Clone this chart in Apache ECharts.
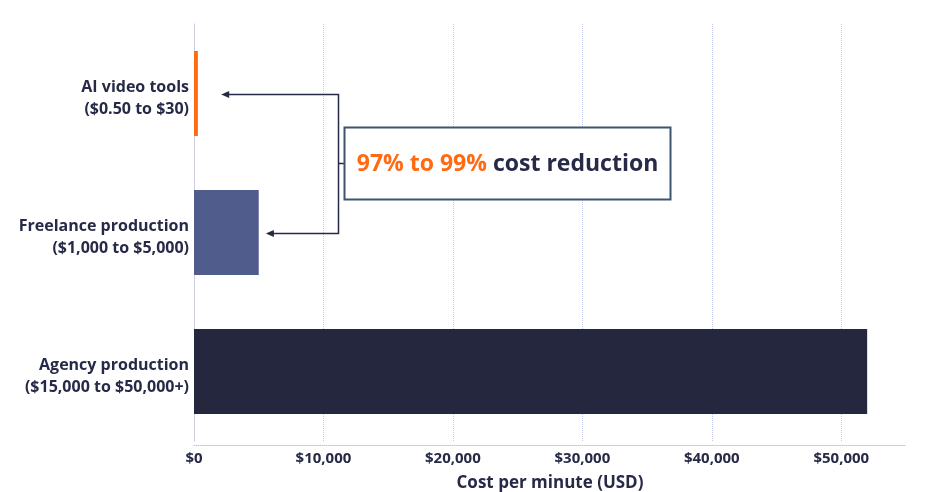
<!DOCTYPE html>
<html>
<head>
    <meta charset="utf-8">
    <title>Cost per minute of video production</title>
    <script src="https://cdn.jsdelivr.net/npm/echarts@6/dist/echarts.min.js"></script>
    <style>
        html, body { margin: 0; padding: 0; background: #fff; }
        #main { width: 935px; height: 492px; }
    </style>
</head>
<body>
<div id="main"></div>

<script type="text/javascript">
    // data
    var categories = ['AI video tools\n($0.50 to $30)', 'Freelance production\n($1,000 to $5,000)', 'Agency production\n($15,000 to $50,000+)'];
    var costs = [300, 5000, 52000];
    var barColors = ['#ff6a13', '#505c8c', '#25273f'];
    var xTicks = [0, 10000, 20000, 30000, 40000, 50000];

    var navy = '#262a47';
    var font = 'Open Sans';

    var myChart = echarts.init(document.getElementById('main'));

    var option = {
        animation: false,
        grid: { left: 194, right: 29, top: 24, bottom: 51, outerBoundsMode: 'none', containLabel: false },
        xAxis: {
            type: 'value',
            min: 0,
            max: 55000,
            interval: 10000,
            offset: 4,
            name: 'Cost per minute (USD)',
            nameLocation: 'middle',
            nameGap: 30,
            nameTextStyle: { color: navy, fontFamily: font, fontWeight: 'bold', fontSize: 17 },
            axisLine: { show: true, lineStyle: { color: '#c3c6d6', type: 'dotted', width: 1 } },
            axisTick: { show: false },
            axisLabel: {
                color: navy, fontFamily: font, fontWeight: 'bold', fontSize: 15, margin: 6,
                showMaxLabel: false,
                formatter: function (v) {
                    return xTicks.indexOf(v) < 0 ? '' : '$' + v.toLocaleString('en-US');
                }
            },
            splitLine: { show: true, showMinLine: false, showMaxLine: false, lineStyle: { color: '#c4cbee', type: 'dotted', width: 1 } }
        },
        yAxis: {
            type: 'category',
            inverse: true,
            data: categories,
            axisLine: { show: true, lineStyle: { color: '#c3c6d6', type: 'dotted', width: 1 } },
            axisTick: { show: false },
            axisLabel: {
                color: navy, fontFamily: font, fontWeight: 'bold', fontSize: 16, margin: 5,
                lineHeight: 22, align: 'right',
                // small spacer line nudges the two-line label a few px down, as in the original
                formatter: function (v) { return '{s|}\n' + v; },
                rich: { s: { lineHeight: 10, fontSize: 1 } }
            }
        },
        series: [{
            type: 'bar',
            barWidth: 85,
            data: costs.map(function (v, i) {
                return { value: v, itemStyle: { color: barColors[i] } };
            })
        }]
    };
    myChart.setOption(option);

    // annotation: bracket from the two cheaper bars to the callout box
    function px(v, cat) { return myChart.convertToPixel({ gridIndex: 0 }, [v, cat]); }
    var topTip = px(2100, 0), lowTip = px(5550, 1), bracket = px(11100, 0);
    var bx = Math.round(bracket[0]) + 0.5;
    var yTop = Math.round(topTip[1]) + 0.5, yLow = Math.round(lowTip[1]) + 0.5;
    var yMid = Math.round((yTop + yLow) / 2) - 0.5;
    var lineStyle = { stroke: navy, lineWidth: 1.5, fill: null };

    function arrowHead(x, y) {
        return { type: 'polygon', shape: { points: [[x, y], [x + 8, y - 3.5], [x + 8, y + 3.5]] }, style: { fill: navy } };
    }

    myChart.setOption({
        graphic: [
            { type: 'polyline', shape: { points: [[topTip[0] + 4, yTop], [bx, yTop], [bx, yLow], [lowTip[0] + 4, yLow]] }, style: lineStyle },
            arrowHead(topTip[0], yTop),
            arrowHead(lowTip[0], yLow),
            { type: 'line', shape: { x1: bx, y1: yMid, x2: bx + 6, y2: yMid }, style: lineStyle },
            {
                type: 'rect',
                shape: { x: bx + 6, y: yMid - 36, width: 326, height: 72 },
                style: { fill: '#fff', stroke: '#3e5570', lineWidth: 2 }
            },
            {
                type: 'text',
                x: bx + 6 + 163,
                y: yMid + 1,
                style: {
                    text: '{o|97% to 99%}{d| cost reduction}',
                    align: 'center',
                    verticalAlign: 'middle',
                    rich: {
                        o: { fill: '#ff6a13', fontFamily: font, fontWeight: 'bold', fontSize: 23 },
                        d: { fill: navy, fontFamily: font, fontWeight: 'bold', fontSize: 23 }
                    }
                }
            }
        ]
    });
</script>
</body>
</html>
